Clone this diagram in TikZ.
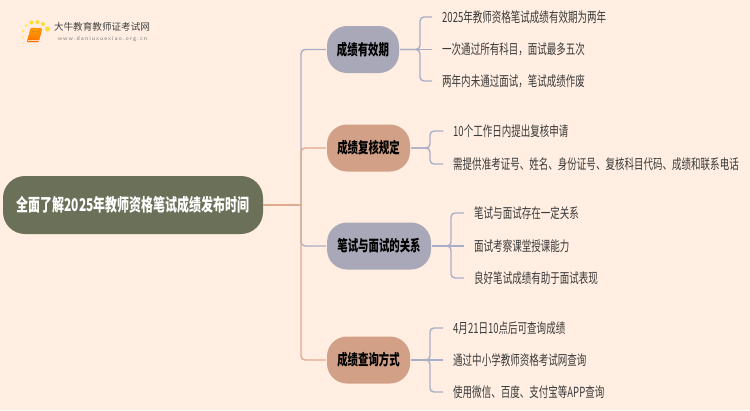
\documentclass[tikz,border=0pt]{standalone}
\usepackage{fontspec}
\newfontfamily\cjk[FakeStretch=0.68]{Noto Sans CJK SC}
\newfontfamily\logofont{Noto Sans CJK SC}
\definecolor{paper}{HTML}{FFEEE1}
\definecolor{rootfill}{HTML}{6B7059}
\definecolor{greyfill}{HTML}{A8A8B9}
\definecolor{tanfill}{HTML}{D2A086}
\definecolor{greyline}{HTML}{A9AEC8}
\definecolor{tanline}{HTML}{DFAA8E}
\definecolor{leaftext}{HTML}{3A3A3A}
\tikzset{
  rootnode/.style={fill=rootfill,text=white,rounded corners=22pt,minimum width=260pt,minimum height=58pt,inner sep=0pt,font=\cjk\bfseries\fontsize{17.6pt}{19pt}\selectfont},
  branchnode/.style={rounded corners=20pt,minimum height=47pt,inner sep=0pt,outer sep=1pt,text=black,font=\cjk\bfseries\fontsize{15.3pt}{17pt}\selectfont},
  greynode/.style={branchnode,fill=greyfill},
  tannode/.style={branchnode,fill=tanfill},
  leafnode/.style={anchor=west,inner ysep=0pt,inner xsep=10pt,text=leaftext,font=\cjk\fontsize{14pt}{16pt}\selectfont},
  greylink/.style={draw=greyline,line width=1.4pt,rounded corners=4pt},
  tanlink/.style={draw=tanline,line width=1.4pt,rounded corners=4pt},
  logodot/.style={circle,fill=#1,draw=none,inner sep=0pt,minimum size=4pt}
}
\begin{document}
\begin{tikzpicture}[x=1pt,y=-1pt]
\useasboundingbox (0,0) rectangle (750,410);
\fill [paper] (0,0) rectangle (750,410);
\node [rootnode] (root) at (133,205) {全面了解2025年教师资格笔试成绩发布时间};
\node [greynode,minimum width=72pt] (limit) at (363,49.5) {成绩有效期};
\node [tannode,minimum width=83pt] (review) at (368.5,148) {成绩复核规定};
\node [greynode,minimum width=104pt] (relation) at (379,246) {笔试与面试的关系};
\node [tannode,minimum width=83pt] (query) at (368.5,360) {成绩查询方式};
\coordinate (trunk) at (301,205);
\node [leafnode] (limita) at (432,17) {2025年教师资格笔试成绩有效期为两年};
\node [leafnode] (limitb) at (432,49.5) {一次通过所有科目，面试最多五次};
\node [leafnode] (limitc) at (432,81) {两年内未通过面试，笔试成绩作废};
\node [leafnode] (reviewa) at (443,131) {10个工作日内提出复核申请};
\node [leafnode] (reviewb) at (443,164) {需提供准考证号、姓名、身份证号、复核科目代码、成绩和联系电话};
\node [leafnode] (relationa) at (464,213) {笔试与面试存在一定关系};
\node [leafnode] (relationb) at (464,246) {面试考察课堂授课能力};
\node [leafnode] (relationc) at (464,278) {良好笔试成绩有助于面试表现};
\node [leafnode] (querya) at (443,328) {4月21日10点后可查询成绩};
\node [leafnode] (queryb) at (443,360) {通过中小学教师资格考试网查询};
\node [leafnode] (queryc) at (443,392) {使用微信、百度、支付宝等APP查询};
\draw [greylink] (trunk) |- (limit.west);
\draw [greylink] (trunk) |- (relation.west);
\draw [tanlink] (trunk) |- (review.west);
\draw [tanlink] (trunk) |- (query.west);
\draw [tanlink] (root.east) -- (trunk);
\draw [greylink] (limit.east) -- (limitb.west);
\draw [greylink] (limit.east) -- ++(20,0) |- (limita.west);
\draw [greylink] (limit.east) -- ++(20,0) |- (limitc.west);
\draw [greylink] (review.east) -- ++(19,0) |- (reviewa.west);
\draw [greylink] (review.east) -- ++(19,0) |- (reviewb.west);
\draw [greylink] (relation.east) -- (relationb.west);
\draw [greylink] (relation.east) -- ++(19,0) |- (relationa.west);
\draw [greylink] (relation.east) -- ++(19,0) |- (relationc.west);
\draw [greylink] (query.east) -- (queryb.west);
\draw [greylink] (query.east) -- ++(19,0) |- (querya.west);
\draw [greylink] (query.east) -- ++(19,0) |- (queryc.west);
\node [logodot=orange!25!yellow!60,minimum size=2pt] (dota) at (23.5,43) {};
\node [logodot=orange!25!yellow!60,minimum size=2.5pt] (dotb) at (22.5,37) {};
\node [logodot=orange!25!yellow!70,minimum size=3pt] (dotc) at (23,31) {};
\node [logodot=orange!25!yellow!70,minimum size=3pt] (dotd) at (26,25.5) {};
\node [logodot=orange!35!yellow!80] (dote) at (31.5,22.5) {};
\node [logodot=orange!35!yellow!80] (dotf) at (37.5,22) {};
\node [logodot=orange!35!yellow!80] (dotg) at (43,24) {};
\node [logodot=orange!35!yellow!80,minimum size=5pt] (doth) at (47.5,29) {};
\draw [draw=orange!85!red,rounded corners=1pt,top color=orange!75!yellow,bottom color=orange!90!red] (31,28) -- (42,28.5) -- (38.5,42) -- (27,42) -- cycle;
\draw [white!70!orange,line width=0.8pt] (27.6,40.6) -- (38.6,40.6);
\draw [orange!40!brown,line width=0.6pt] (32,31.5) -- (39.5,31.8);
\node [inner sep=0pt,text=black!75,font=\logofont\fontsize{9.6pt}{12pt}\selectfont] (logoname) at (102,27) {大牛教育教师证考试网};
\node [inner sep=0pt,text=black!50,font=\sffamily\fontsize{6pt}{7pt}\selectfont] (logourl) at (102.5,39) {w\,w\,w\,.\,d\,a\,n\,i\,u\,x\,u\,e\,x\,i\,a\,o\,.\,o\,r\,g\,.\,c\,n};
\end{tikzpicture}
\end{document}
